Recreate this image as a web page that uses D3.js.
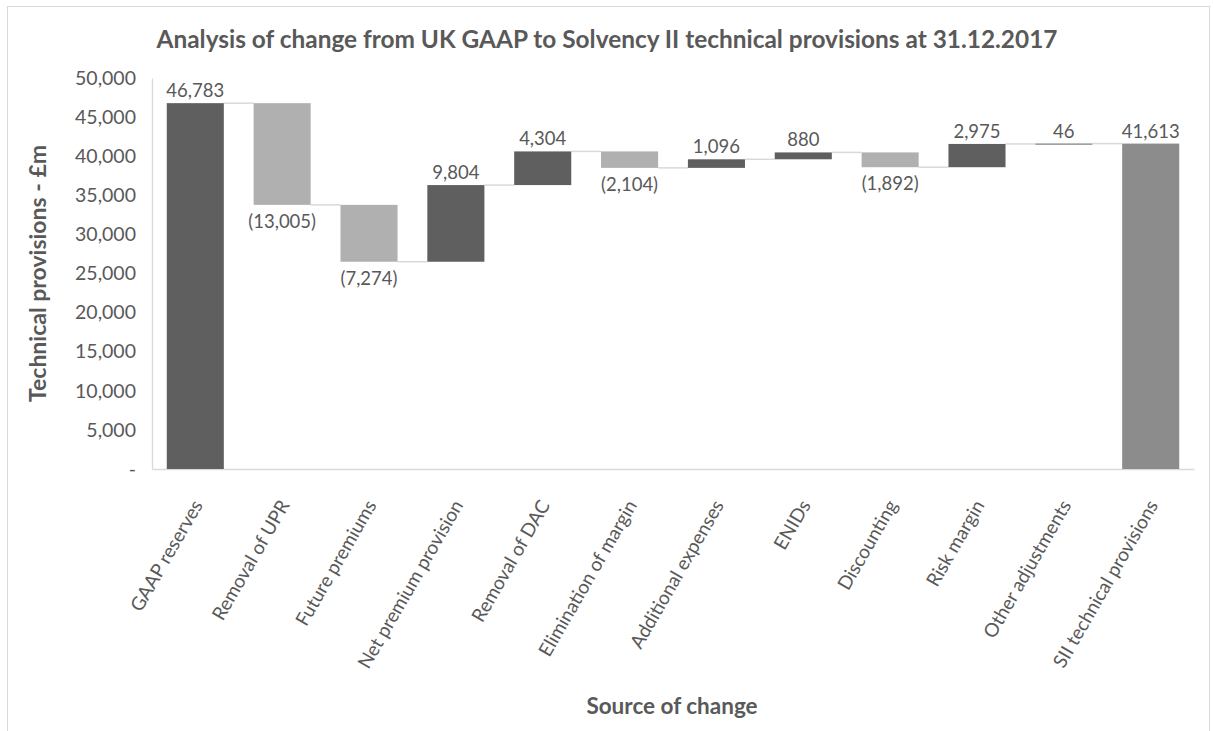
<!DOCTYPE html>
<html>
<head>
<meta charset="utf-8">
<script src="https://cdn.jsdelivr.net/npm/d3@7"></script>
<style>
    body { margin: 0; background: #fff; }
    text { font-family: Lato, "Open Sans", sans-serif; fill: #595959; }
</style>
</head>
<body>
<script>
(function() {

    var categories = ["GAAP reserves", "Removal of UPR", "Future premiums", "Net premium provision",
        "Removal of DAC", "Elimination of margin", "Additional expenses", "ENIDs",
        "Discounting", "Risk margin", "Other adjustments", "SII technical provisions"];
    // first and last are totals, the rest are changes
    var changes = [46783, -13005, -7274, 9804, 4304, -2104, 1096, 880, -1892, 2975, 46, 41613];
    var kinds = ["start", "step", "step", "step", "step", "step", "step", "step", "step", "step", "step", "total"];
    var yTicks = [0, 5000, 10000, 15000, 20000, 25000, 30000, 35000, 40000, 45000, 50000];

    var width = 1214,
        height = 731,
        plotLeft = 152,
        plotRight = 1194,
        plotTop = 78,
        plotBottom = 469;

    var svg = d3.select("body")
        .append("svg")
        .attr("width", width)
        .attr("height", height);

    // chart frame
    svg.append("rect")
        .attr("x", 7.5)
        .attr("y", 6.5)
        .attr("width", 1202)
        .attr("height", 740)
        .style("fill", "none")
        .style("stroke", "#d9d9d9");

    var x = d3.scaleBand()
        .domain(categories)
        .range([plotLeft, plotRight])
        .paddingInner(0.343)
        .paddingOuter(0.17);

    var y = d3.scaleLinear()
        .domain([0, 50000])
        .range([plotBottom, plotTop]);

    // build running totals
    var running = 0;
    var bars = changes.map(function(v, i) {
        var d = { name: categories[i], value: v, kind: kinds[i] };
        if (kinds[i] == "start" || kinds[i] == "total") {
            d.y0 = 0; d.y1 = v; running = v;
        } else {
            d.y0 = running; d.y1 = running + v; running = running + v;
        }
        return d;
    });

    // y axis
    var yAxis = d3.axisLeft(y)
        .tickValues(yTicks)
        .tickSize(0)
        .tickPadding(16)
        .tickFormat(function(d){ return d == 0 ? "-" : d3.format(",")(d); });

    var yG = svg.append("g")
        .attr("transform", "translate(" + plotLeft + ",0)")
        .call(yAxis);
    yG.select(".domain").style("stroke", "#d9d9d9").style("stroke-width", 1.3);
    yG.selectAll("text")
        .style("font-size", "19.5px")
        .style("fill", "#595959")
        .style("font-family", "Lato");

    // x axis
    var xAxis = d3.axisBottom(x).tickSize(0).tickPadding(0);
    var xG = svg.append("g")
        .attr("transform", "translate(0," + plotBottom + ")")
        .call(xAxis);
    xG.select(".domain").style("stroke", "#d9d9d9").style("stroke-width", 1.3);
    xG.selectAll("text")
        .attr("text-anchor", "end")
        .attr("dy", 0)
        .attr("transform", "translate(8,36) rotate(-60)")
        .style("font-size", "19px")
        .style("fill", "#595959")
        .style("font-family", "Lato");

    // connectors
    svg.selectAll(".connector")
        .data(bars.slice(0, bars.length - 1))
        .enter()
        .append("line")
        .attr("class", "connector")
        .attr("x1", function(d){ return x(d.name) + x.bandwidth(); })
        .attr("x2", function(d, i){ return x(categories[i + 1]); })
        .attr("y1", function(d){ return y(d.y1); })
        .attr("y2", function(d){ return y(d.y1); })
        .style("stroke", "#d9d9d9")
        .style("stroke-width", 1.5);

    function barColor(d) {
        if (d.kind == "start") return "#5f5f5f";
        if (d.kind == "total") return "#8c8c8c";
        return d.value < 0 ? "#b0b0b0" : "#5f5f5f";
    }

    svg.selectAll(".bar")
        .data(bars)
        .enter()
        .append("rect")
        .attr("class", "bar")
        .attr("x", function(d){ return x(d.name); })
        .attr("width", x.bandwidth())
        .attr("y", function(d){ return y(Math.max(d.y0, d.y1)); })
        .attr("height", function(d){ return Math.max(1, Math.abs(y(d.y0) - y(d.y1))); })
        .style("fill", barColor);

    // data labels
    var fmt = d3.format(",");
    svg.selectAll(".label")
        .data(bars)
        .enter()
        .append("text")
        .attr("class", "label")
        .attr("x", function(d){ return x(d.name) + x.bandwidth() / 2; })
        .attr("y", function(d){
            if (d.value < 0) return y(d.y1) + 23;
            return y(Math.max(d.y0, d.y1)) - 6;
        })
        .attr("text-anchor", "middle")
        .style("font-size", "18.5px")
        .text(function(d){ return d.value < 0 ? "(" + fmt(-d.value) + ")" : fmt(d.value); });

    // title
    svg.append("text")
        .attr("x", 607)
        .attr("y", 48)
        .attr("text-anchor", "middle")
        .style("font-size", "24.4px")
        .style("font-weight", "bold")
        .text("Analysis of change from UK GAAP to Solvency II technical provisions at 31.12.2017");

    // axis titles
    svg.append("text")
        .attr("transform", "translate(46," + ((plotTop + plotBottom) / 2) + ") rotate(-90)")
        .attr("text-anchor", "middle")
        .style("font-size", "23px")
        .style("font-weight", "bold")
        .text("Technical provisions - £m");

    svg.append("text")
        .attr("x", 672)
        .attr("y", 714)
        .attr("text-anchor", "middle")
        .style("font-size", "22.5px")
        .style("font-weight", "bold")
        .text("Source of change");

})();
</script>
</body>
</html>
